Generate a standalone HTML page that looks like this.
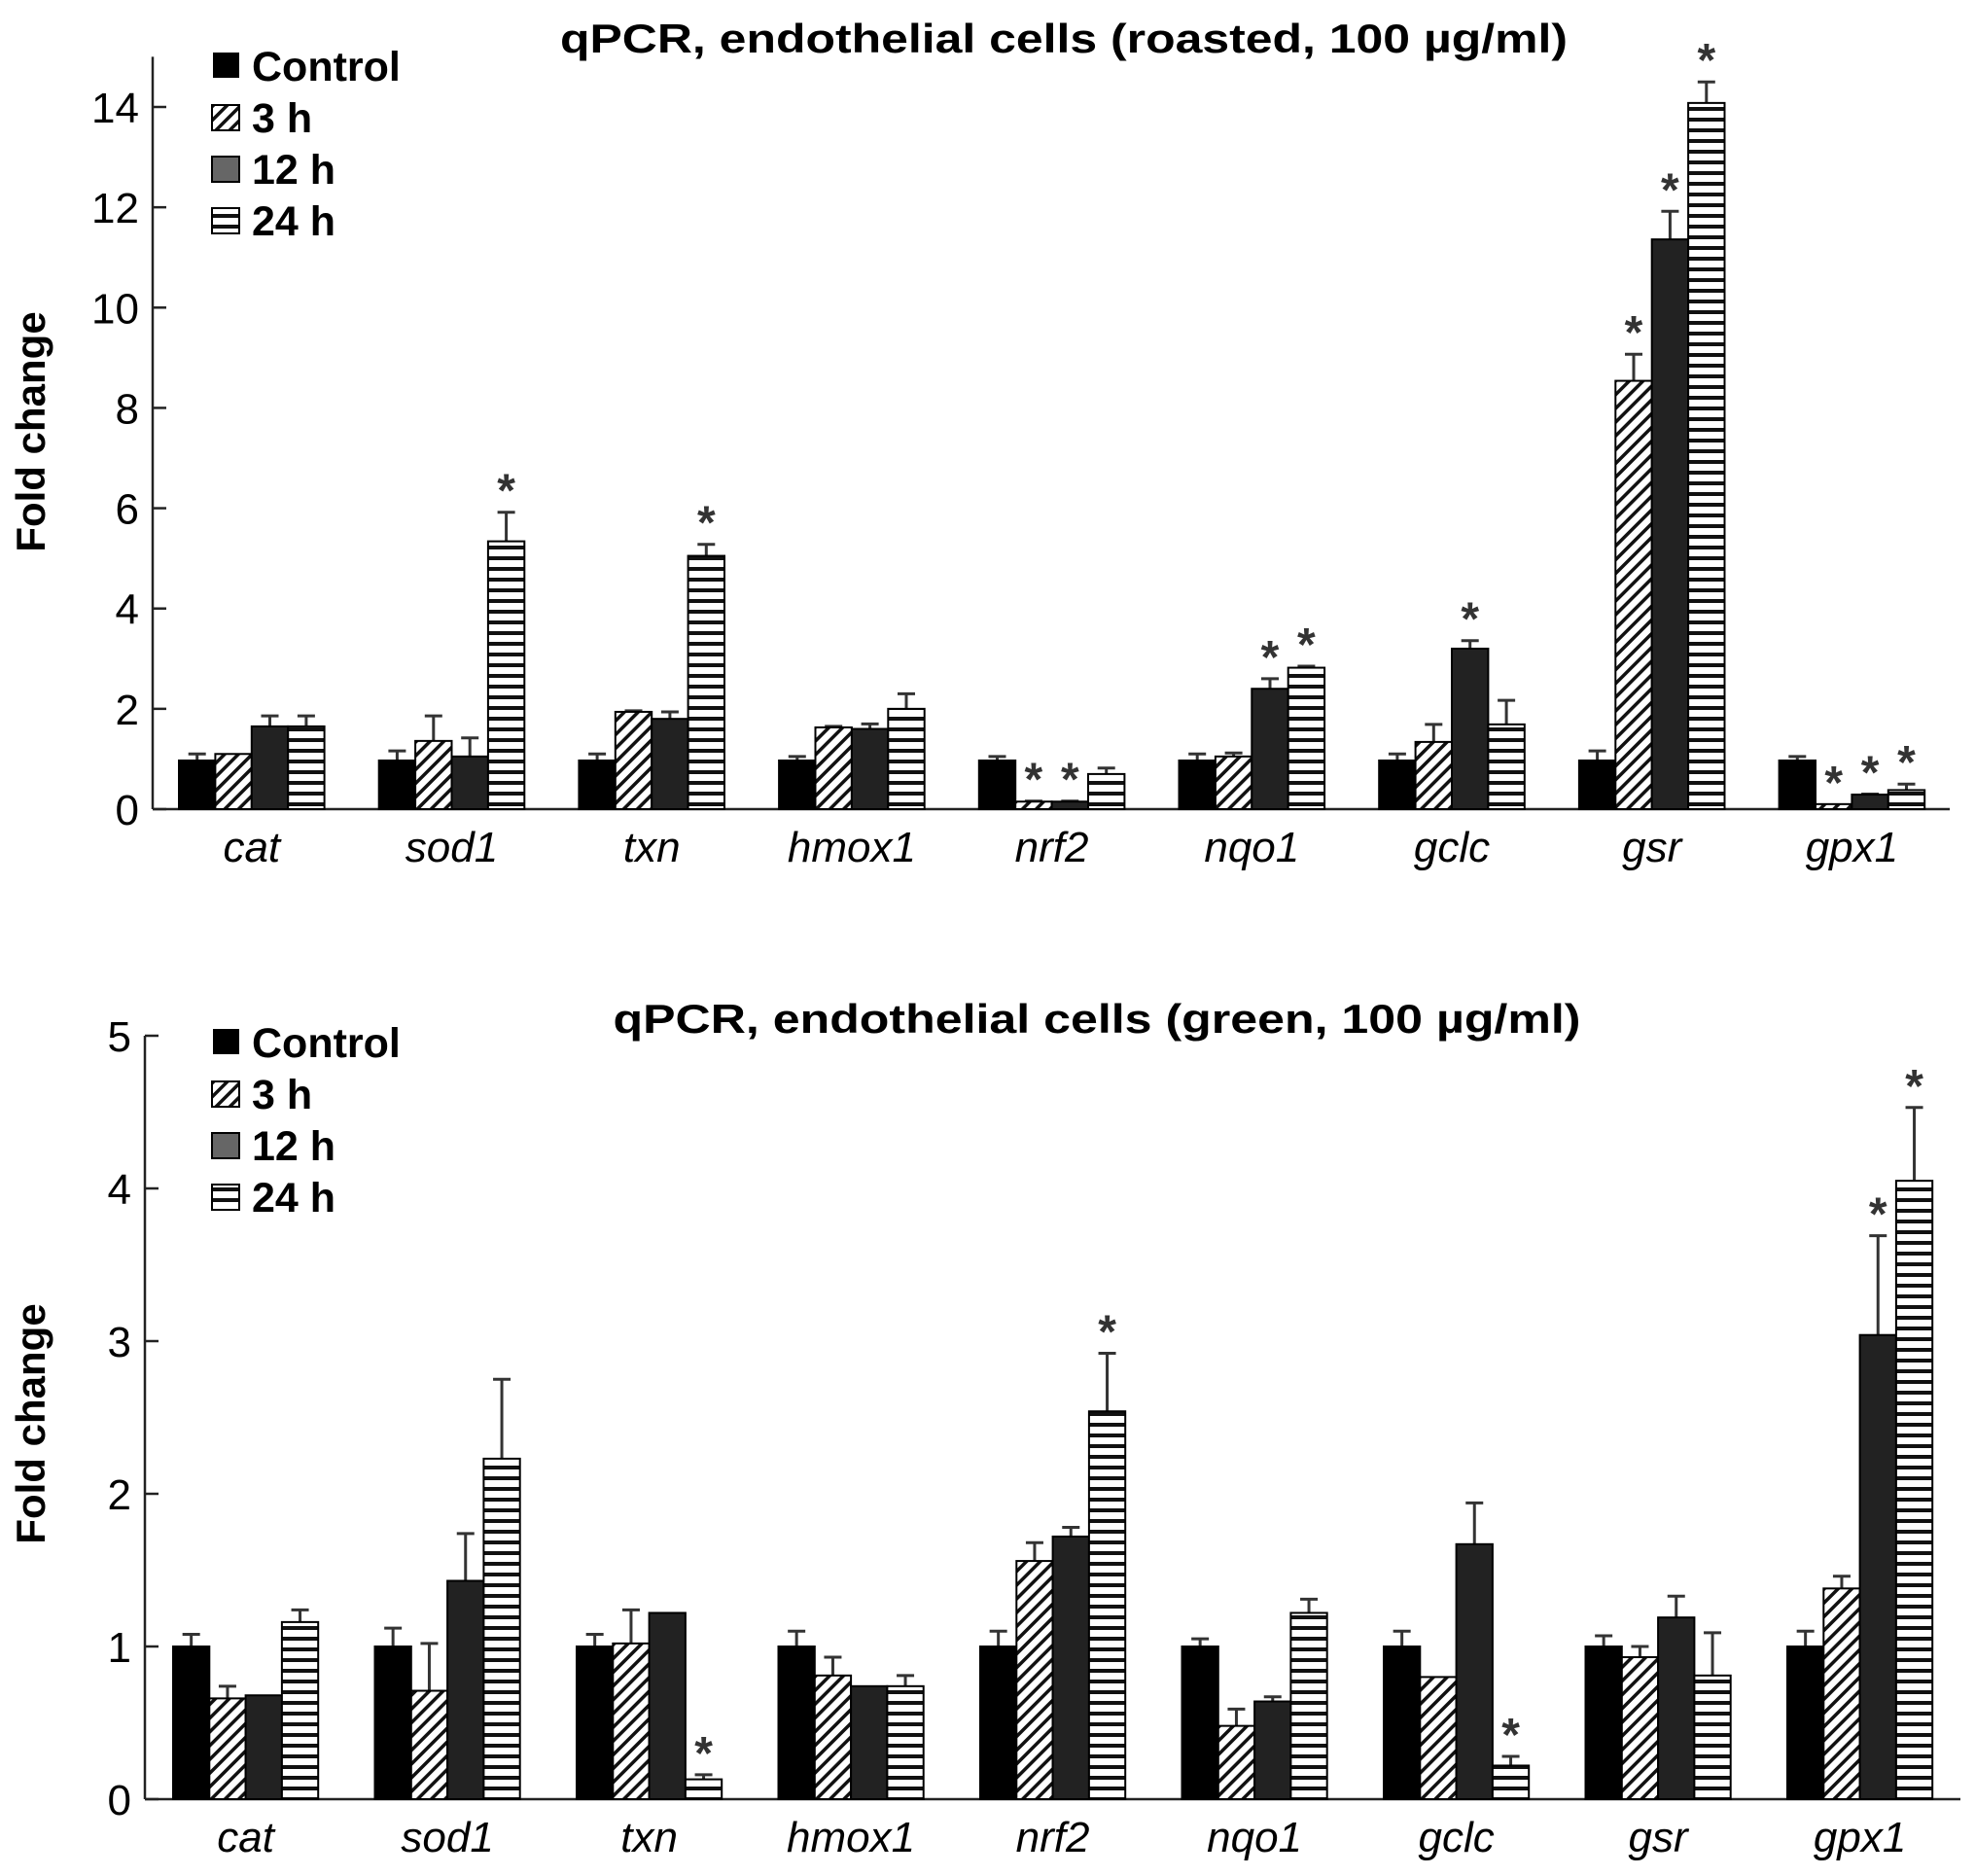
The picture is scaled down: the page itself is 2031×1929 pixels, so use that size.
<!DOCTYPE html>
<html><head><meta charset="utf-8"><style>
html,body{margin:0;padding:0;background:#fff;}
svg{display:block;}
text{font-family:"Liberation Sans",sans-serif;}
</style></head><body>
<svg id="fig" width="2031" height="1929" xmlns="http://www.w3.org/2000/svg">
<defs>
<pattern id="diag" patternUnits="userSpaceOnUse" width="10" height="10" patternTransform="rotate(45)">
<rect width="10" height="10" fill="#fff"/><rect x="0" y="0" width="3.5" height="10" fill="#111"/>
</pattern>
<pattern id="horiz" patternUnits="userSpaceOnUse" width="11" height="11">
<rect width="11" height="11" fill="#fff"/><rect x="0" y="0" width="11" height="4" fill="#111"/>
</pattern>
</defs>
</svg>
<script>
const categories = ["cat","sod1","txn","hmox1","nrf2","nqo1","gclc","gsr","gpx1"];
const seriesNames = ["Control","3 h","12 h","24 h"];
// Top chart (roasted)
const topControl = [0.97,0.97,0.97,0.97,0.97,0.97,0.97,0.97,0.97];
const top3h      = [1.1,1.36,1.94,1.63,0.15,1.05,1.34,8.54,0.1];
const top12h     = [1.65,1.05,1.8,1.6,0.15,2.4,3.2,11.36,0.29];
const top24h     = [1.65,5.34,5.05,2.0,0.7,2.82,1.69,14.08,0.38];
const topErrCtrl = [1.1,1.16,1.1,1.05,1.05,1.1,1.1,1.16,1.05];
const topErr3h   = [1.1,1.86,1.96,1.65,0.16,1.12,1.69,9.07,0.1];
const topErr12h  = [1.86,1.42,1.94,1.7,0.16,2.6,3.36,11.92,0.3];
const topErr24h  = [1.86,5.92,5.28,2.3,0.82,2.85,2.17,14.5,0.5];
const topStar3h  = [0,0,0,0,1,0,0,1,1];
const topStar12h = [0,0,0,0,1,1,1,1,1];
const topStar24h = [0,1,1,0,0,1,0,1,1];
const topTicks = [0,2,4,6,8,10,12,14];
// Bottom chart (green)
const botControl = [1,1,1,1,1,1,1,1,1];
const bot3h      = [0.66,0.71,1.02,0.81,1.56,0.48,0.8,0.93,1.38];
const bot12h     = [0.68,1.43,1.22,0.74,1.72,0.64,1.67,1.19,3.04];
const bot24h     = [1.16,2.23,0.13,0.74,2.54,1.22,0.22,0.81,4.05];
const botErrCtrl = [1.08,1.12,1.08,1.1,1.1,1.05,1.1,1.07,1.1];
const botErr3h   = [0.74,1.02,1.24,0.93,1.68,0.59,0.8,1.0,1.46];
const botErr12h  = [0.68,1.74,1.22,0.74,1.78,0.67,1.94,1.33,3.69];
const botErr24h  = [1.24,2.75,0.16,0.81,2.92,1.31,0.28,1.09,4.53];
const botStar3h  = [0,0,0,0,0,0,0,0,0];
const botStar12h = [0,0,0,0,0,0,0,0,1];
const botStar24h = [0,0,1,0,1,0,1,0,1];
const botTicks = [0,1,2,3,4,5];

const NS="http://www.w3.org/2000/svg";
const svg=document.getElementById('fig');
const fills=["#000","url(#diag)","#222","url(#horiz)"];
function mk(tag,attrs,parent){const e=document.createElementNS(NS,tag);for(const k in attrs)e.setAttribute(k,attrs[k]);(parent||svg).appendChild(e);return e;}

function drawChart(cfg){
  const g=mk('g',{});
  
  
  const y=v=>cfg.zeroY-(v/cfg.yMax)*(cfg.zeroY-cfg.topY);
  const x=(ci,si)=>cfg.x0+ci*cfg.spacing+si*cfg.barW;
  const ya=mk('line',{x1:cfg.axisX,y1:y(cfg.axisTop),x2:cfg.axisX,y2:cfg.zeroY,stroke:'#222','stroke-width':2.5},g);
  
  
  const xa=mk('line',{x1:cfg.axisX,y1:cfg.zeroY,x2:cfg.axisEnd,y2:cfg.zeroY,stroke:'#222','stroke-width':2.5},g);
  
  
  cfg.ticks.forEach(t=>{
    const tl=mk('line',{x1:cfg.axisX,y1:y(t),x2:cfg.axisX+14,y2:y(t),stroke:'#222','stroke-width':2.5},g);
    
    
    const tx=mk('text',{x:cfg.axisX-14,y:y(t)+16,'text-anchor':'end','font-size':44},g);
    tx.textContent=t;
    
    
  });
  categories.forEach((c,ci)=>{
    for(let si=0;si<4;si++){
      const v=cfg.vals[si][ci], e=cfg.errs[si][ci];
      const bx=x(ci,si), cx=bx+cfg.barW/2;
      if(e>v+0.005){
        const el=mk('line',{x1:cx,y1:y(v),x2:cx,y2:y(e),stroke:'#333','stroke-width':3},g);
        
        
        const ec=mk('line',{x1:cx-9,y1:y(e),x2:cx+9,y2:y(e),stroke:'#333','stroke-width':3},g);
        
        
      }
      const r=mk('rect',{x:bx,y:y(v),width:cfg.barW,height:Math.max(cfg.zeroY-y(v),1),fill:fills[si],stroke:'#000','stroke-width':2},g);
      
      
      if(cfg.stars[si]&&cfg.stars[si][ci]){
        const s=mk('text',{x:cx,y:Math.min(y(e),y(v))-6,'text-anchor':'middle','font-size':48,'font-weight':'bold',fill:'#333'},g);
        s.textContent='*';
        
        
      }
    }
    const cl=mk('text',{x:x(ci,0)+2*cfg.barW,y:cfg.zeroY+54,'text-anchor':'middle','font-size':44,'font-style':'italic'},g);
    cl.textContent=c;
    
    
  });
  const ti=mk('text',{x:cfg.titleX,y:cfg.titleY,'text-anchor':'middle','font-size':42,'font-weight':'bold',textLength:cfg.titleW,lengthAdjust:'spacingAndGlyphs'},g);
  ti.textContent=cfg.title;
  
  
  const yt=mk('text',{x:0,y:0,'text-anchor':'middle','font-size':42,'font-weight':'bold',transform:`translate(46,${cfg.yTitleY}) rotate(-90)`},g);
  yt.textContent='Fold change';
  
  
  seriesNames.forEach((n,i)=>{
    const ly=cfg.legY+i*53;
    const lr=mk('rect',{x:i==0?220:218,y:ly-13,width:i==0?25:28,height:i==0?24:26,fill:i==2?'#666':fills[i],stroke:'#000','stroke-width':2},g);
    
    
    const lt=mk('text',{x:259,y:ly+15,'font-size':43,'font-weight':'bold'},g);
    lt.textContent=n;
    
    
  });
}

drawChart({name:'chart-roasted',zeroY:832,topY:110,yMax:14,axisTop:15,ticks:topTicks,axisX:157,axisEnd:2005,
  x0:184,spacing:205.7,barW:37.4,
  vals:[topControl,top3h,top12h,top24h],errs:[topErrCtrl,topErr3h,topErr12h,topErr24h],stars:[null,topStar3h,topStar12h,topStar24h],
  title:'qPCR, endothelial cells (roasted, 100 µg/ml)',titleX:1094,titleY:54,titleW:1036,yTitleY:444,legY:68});
drawChart({name:'chart-green',zeroY:1850,topY:1065,yMax:5,axisTop:5,ticks:botTicks,axisX:149,axisEnd:2016,
  x0:178,spacing:207.5,barW:37.3,
  vals:[botControl,bot3h,bot12h,bot24h],errs:[botErrCtrl,botErr3h,botErr12h,botErr24h],stars:[null,botStar3h,botStar12h,botStar24h],
  title:'qPCR, endothelial cells (green, 100 µg/ml)',titleX:1128,titleY:1062,titleW:995,yTitleY:1464,legY:1072});
</script>
</body></html>
